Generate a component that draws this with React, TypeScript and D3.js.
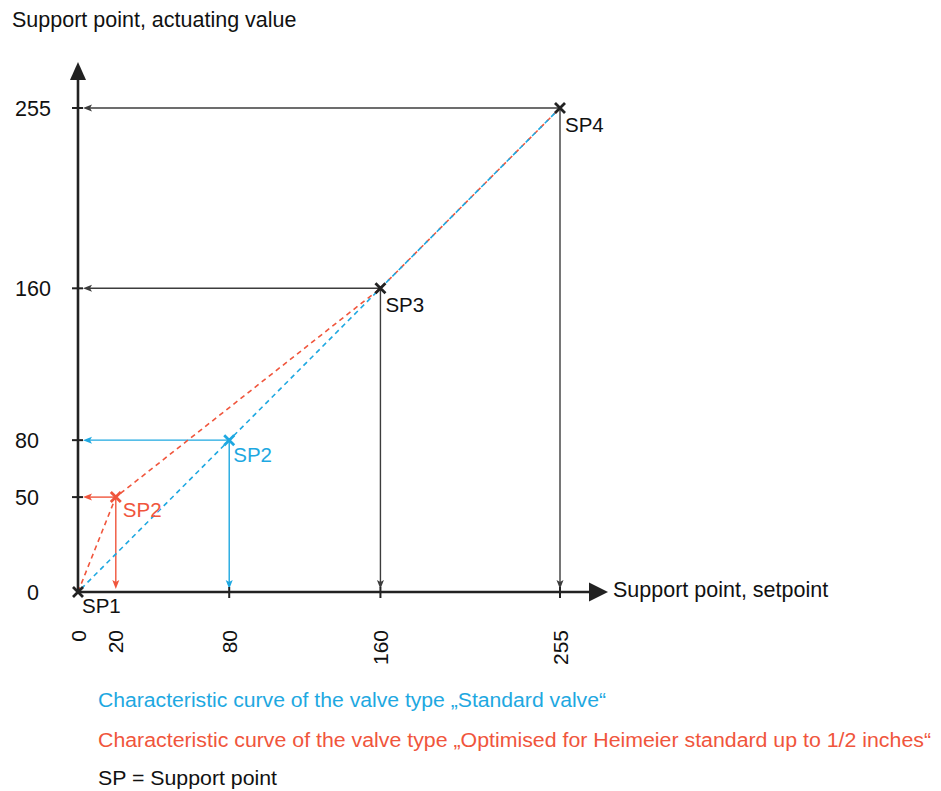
import React from "react";
import * as d3 from "d3";

const xTicks = [0, 20, 80, 160, 255];
const yTicks = [0, 50, 80, 160, 255];

type Pt = { sp: string; x: number; y: number };
const blackPoints: Pt[] = [
  { sp: "SP1", x: 0, y: 0 },
  { sp: "SP3", x: 160, y: 160 },
  { sp: "SP4", x: 255, y: 255 },
];
const standardCurve: Pt[] = [
  { sp: "SP1", x: 0, y: 0 },
  { sp: "SP2", x: 80, y: 80 },
  { sp: "SP3", x: 160, y: 160 },
  { sp: "SP4", x: 255, y: 255 },
];
const heimeierCurve: Pt[] = [
  { sp: "SP1", x: 0, y: 0 },
  { sp: "SP2", x: 20, y: 50 },
  { sp: "SP3", x: 160, y: 160 },
  { sp: "SP4", x: 255, y: 255 },
];
const legendLines = [
  "Characteristic curve of the valve type \u201EStandard valve\u201C",
  "Characteristic curve of the valve type \u201EOptimised for Heimeier standard up to 1/2 inches\u201C",
  "SP = Support point",
];

const BLUE = "#1ea8e1";
const RED = "#f0553c";
const DARK = "#222";
const GUIDE = "#3c3c3c";
const FONT = "'Liberation Sans', Arial, Helvetica, sans-serif";

export default function App() {
  const x = d3.scaleLinear().domain([0, 255]).range([78, 560]);
  const y = d3.scaleLinear().domain([0, 255]).range([592, 108]);
  const line = d3
    .line<Pt>()
    .x((d) => x(d.x))
    .y((d) => y(d.y));

  const x0 = x(0);
  const y0 = y(0);

  const guide = (p: Pt, color: string, key: string) => {
    const px = x(p.x);
    const py = y(p.y);
    const hx = x0 + 5;
    const vy = y0 - 3;
    return (
      <g key={key}>
        <line x1={px} y1={py} x2={hx + 6} y2={py} stroke={color} strokeWidth={1.4} />
        <path d={`M${hx},${py} L${hx + 9},${py - 3.5} L${hx + 7},${py} L${hx + 9},${py + 3.5} Z`} fill={color} />
        <line x1={px} y1={py} x2={px} y2={vy - 6} stroke={color} strokeWidth={1.4} />
        <path d={`M${px},${vy} L${px - 3.5},${vy - 9} L${px},${vy - 7} L${px + 3.5},${vy - 9} Z`} fill={color} />
      </g>
    );
  };

  const cross = (p: Pt, color: string, key: string) => {
    const px = x(p.x);
    const py = y(p.y);
    const s = 5;
    return (
      <path
        key={key}
        d={`M${px - s},${py - s} L${px + s},${py + s} M${px - s},${py + s} L${px + s},${py - s}`}
        stroke={color}
        strokeWidth={2.8}
      />
    );
  };

  const label = (p: Pt, color: string, key: string, dx = 5, dy = 22) => (
    <text key={key} x={x(p.x) + dx} y={y(p.y) + dy} fill={color} fontSize={20.5}>
      {p.sp}
    </text>
  );

  const blueSP2 = standardCurve[1];
  const redSP2 = heimeierCurve[1];

  return (
    <svg
      width={941}
      height={791}
      style={{ display: "block", position: "absolute", left: 0, top: 0 }}
      fontFamily={FONT}
    >
      <rect width={941} height={791} fill="#fff" />
      {/* guides */}
      {blackPoints.slice(1).map((p, i) => guide(p, GUIDE, "g" + i))}
      {guide(blueSP2, BLUE, "gb")}
      {guide(redSP2, RED, "gr")}

      {/* curves */}
      <path d={line(heimeierCurve) || ""} fill="none" stroke={RED} strokeWidth={1.6} strokeDasharray="5 4" />
      <path d={line(standardCurve) || ""} fill="none" stroke={BLUE} strokeWidth={1.6} strokeDasharray="5 4" strokeDashoffset={4.5} />

      {/* axes */}
      <line x1={x0} y1={y0} x2={x0} y2={78} stroke={DARK} strokeWidth={2.6} />
      <path d={`M${x0},62 L${x0 - 8},80 L${x0 + 8},80 Z`} fill={DARK} />
      <line x1={x0} y1={y0} x2={591} y2={y0} stroke={DARK} strokeWidth={2.6} />
      <path d={`M608,${y0} L589,${y0 - 9.5} L589,${y0 + 9.5} Z`} fill={DARK} />

      {yTicks.filter((t) => t > 0).map((t) => (
        <line key={"yt" + t} x1={x0 - 6} x2={x0 + 5} y1={y(t)} y2={y(t)} stroke={DARK} strokeWidth={2} />
      ))}
      {xTicks.filter((t) => t >= 80).map((t) => (
        <line key={"xt" + t} x1={x(t)} x2={x(t)} y1={y0 - 5} y2={y0 + 6} stroke={DARK} strokeWidth={2} />
      ))}

      {yTicks.map((t) => (
        <text key={"yl" + t} x={t === 0 ? 27 : 15} y={y(t)} dy="0.36em" fontSize={21.5} fill="#111">
          {t}
        </text>
      ))}
      {xTicks.map((t) => (
        <text
          key={"xl" + t}
          transform={`translate(${x(t)},630) rotate(-90)`}
          textAnchor="end"
          dy="0.36em"
          fontSize={21}
          fill="#111"
        >
          {t}
        </text>
      ))}

      {/* markers */}
      {blackPoints.map((p, i) => cross(p, DARK, "c" + i))}
      {cross(blueSP2, BLUE, "cb")}
      {cross(redSP2, RED, "cr")}

      {blackPoints.map((p, i) => label(p, "#111", "l" + i, i === 0 ? 4 : 5, i === 0 ? 21 : 24))}
      {label(blueSP2, BLUE, "lb", 4, 22)}
      {label(redSP2, RED, "lr", 7, 20)}

      {/* titles */}
      <text x={12} y={27} fontSize={21.5} fill="#111">Support point, actuating value</text>
      <text x={613} y={597} fontSize={21.5} fill="#111">Support point, setpoint</text>

      {/* legend */}
      <text x={98} y={707} fontSize={19.5} fill={BLUE} textLength={508} lengthAdjust="spacingAndGlyphs">
        {legendLines[0]}
      </text>
      <text x={98} y={747} fontSize={19.5} fill={RED} textLength={833} lengthAdjust="spacingAndGlyphs">
        {legendLines[1]}
      </text>
      <text x={98} y={785} fontSize={19.5} fill="#111" textLength={179} lengthAdjust="spacingAndGlyphs">
        {legendLines[2]}
      </text>
    </svg>
  );
}
